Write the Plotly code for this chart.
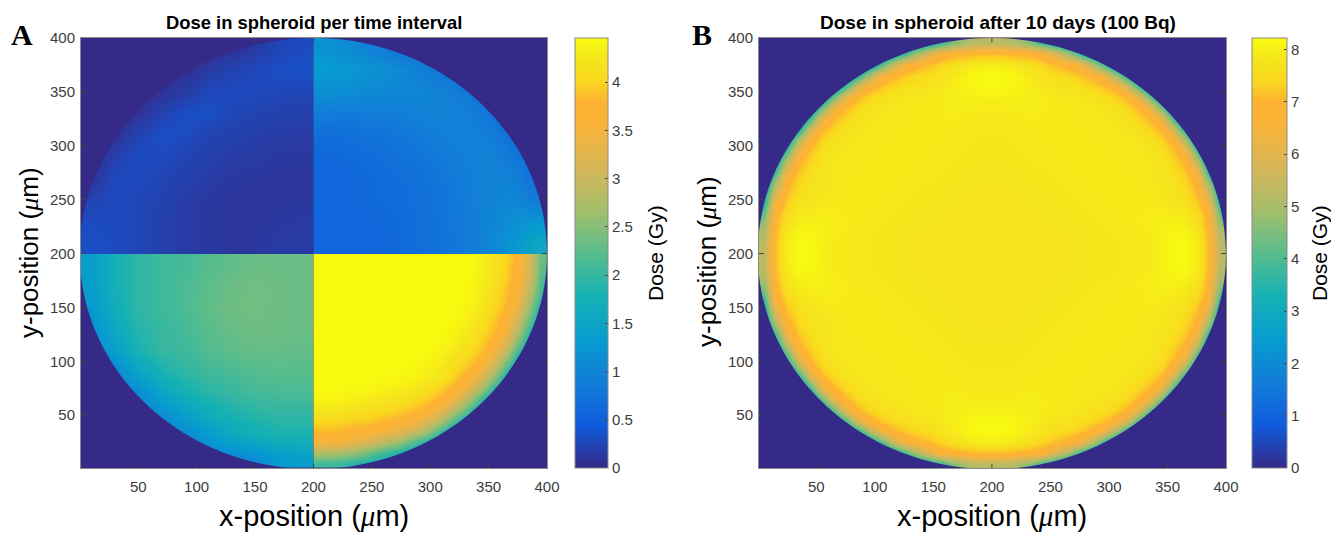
import plotly.graph_objects as go

W, H = 1331, 536
cell_centres_low = [10, 30, 50, 70, 90, 110, 130, 150, 170, 190]
cell_centres_high = [210, 230, 250, 270, 290, 310, 330, 350, 370, 390]
fine_centres_low = [5, 15, 25, 35, 45, 55, 65, 75, 85, 95, 105, 115, 125, 135, 145, 155, 165, 175, 185, 195]
fine_centres_high = [205, 215, 225, 235, 245, 255, 265, 275, 285, 295, 305, 315, 325, 335, 345, 355, 365, 375, 385, 395]
x_ticks = [50, 100, 150, 200, 250, 300, 350, 400]
y_ticks = [50, 100, 150, 200, 250, 300, 350, 400]
cbar_a_ticks = [0, 0.5, 1, 1.5, 2, 2.5, 3, 3.5, 4]
cbar_b_ticks = [0, 1, 2, 3, 4, 5, 6, 7, 8]
dose_a_max = 4.456
dose_b_max = 8.22

# Panel A: dose per quadrant, rows run from low y to high y (Gy)
a_lower_left = [
    [1.0, 1.0, 1.0, 1.0, 1.0, 1.0, 1.0, 1.1, 1.3, 1.4],
    [1.0, 1.0, 1.0, 1.0, 1.05, 1.3, 1.55, 1.7, 1.8, 1.8],
    [1.0, 1.0, 1.0, 1.1, 1.4, 1.65, 1.8, 1.9, 1.95, 1.95],
    [1.0, 1.0, 1.1, 1.5, 1.75, 1.9, 2.0, 2.08, 2.12, 2.12],
    [1.0, 1.0, 1.5, 1.8, 1.95, 2.05, 2.12, 2.2, 2.22, 2.22],
    [1.1, 1.4, 1.8, 2.0, 2.05, 2.18, 2.26, 2.3, 2.3, 2.28],
    [1.15, 1.6, 1.9, 2.0, 2.1, 2.22, 2.32, 2.36, 2.34, 2.32],
    [1.3, 1.7, 1.95, 2.05, 2.14, 2.27, 2.36, 2.38, 2.35, 2.32],
    [1.38, 1.75, 1.95, 2.05, 2.14, 2.24, 2.33, 2.38, 2.35, 2.32],
    [1.38, 1.75, 1.95, 2.05, 2.1, 2.2, 2.28, 2.33, 2.32, 2.32],
]
a_lower_right = [
    [2.05, 2.05, 2.0, 1.9, 1.8, 1.7, 1.6, 1.5, 1.5, 1.5, 1.5, 1.5, 1.5, 1.5, 1.5, 1.5, 1.5, 1.5, 1.5, 1.5],
    [2.8, 2.78, 2.7, 2.6, 2.42, 2.2, 2.0, 1.8, 1.65, 1.5, 1.5, 1.5, 1.5, 1.5, 1.5, 1.5, 1.5, 1.5, 1.5, 1.5],
    [3.5, 3.48, 3.42, 3.3, 3.15, 2.95, 2.75, 2.55, 2.2, 1.9, 1.65, 1.5, 1.5, 1.5, 1.5, 1.5, 1.5, 1.5, 1.5, 1.5],
    [3.85, 3.85, 3.8, 3.72, 3.65, 3.55, 3.4, 3.25, 3.05, 2.75, 2.25, 1.8, 1.55, 1.5, 1.5, 1.5, 1.5, 1.5, 1.5, 1.5],
    [4.05, 4.05, 4.0, 3.97, 3.95, 3.88, 3.8, 3.72, 3.55, 3.3, 3.0, 2.5, 1.95, 1.6, 1.5, 1.5, 1.5, 1.5, 1.5, 1.5],
    [4.25, 4.25, 4.22, 4.18, 4.15, 4.1, 4.05, 3.95, 3.88, 3.75, 3.5, 3.15, 2.65, 2.05, 1.6, 1.5, 1.5, 1.5, 1.5, 1.5],
    [4.38, 4.38, 4.36, 4.33, 4.3, 4.25, 4.2, 4.15, 4.08, 4.0, 3.82, 3.6, 3.2, 2.65, 2.05, 1.6, 1.5, 1.5, 1.5, 1.5],
    [4.45, 4.45, 4.43, 4.42, 4.4, 4.38, 4.35, 4.3, 4.25, 4.15, 4.03, 3.85, 3.6, 3.2, 2.65, 1.95, 1.55, 1.5, 1.5, 1.5],
    [4.45, 4.45, 4.45, 4.45, 4.45, 4.43, 4.42, 4.4, 4.36, 4.3, 4.22, 4.1, 3.85, 3.6, 3.15, 2.5, 1.8, 1.5, 1.5, 1.5],
    [4.45, 4.45, 4.45, 4.45, 4.45, 4.45, 4.45, 4.45, 4.42, 4.37, 4.3, 4.17, 4.03, 3.82, 3.5, 3.0, 2.25, 1.65, 1.5, 1.5],
    [4.45, 4.45, 4.45, 4.45, 4.45, 4.45, 4.45, 4.45, 4.45, 4.43, 4.37, 4.28, 4.15, 4.0, 3.78, 3.35, 2.7, 1.95, 1.55, 1.5],
    [4.45, 4.45, 4.45, 4.45, 4.45, 4.45, 4.45, 4.45, 4.45, 4.45, 4.42, 4.36, 4.25, 4.1, 3.92, 3.62, 3.1, 2.35, 1.65, 1.5],
    [4.45, 4.45, 4.45, 4.45, 4.45, 4.45, 4.45, 4.45, 4.45, 4.45, 4.45, 4.4, 4.32, 4.2, 4.03, 3.8, 3.38, 2.72, 1.9, 1.5],
    [4.45, 4.45, 4.45, 4.45, 4.45, 4.45, 4.45, 4.45, 4.45, 4.45, 4.45, 4.43, 4.38, 4.27, 4.12, 3.9, 3.6, 3.0, 2.2, 1.6],
    [4.45, 4.45, 4.45, 4.45, 4.45, 4.45, 4.45, 4.45, 4.45, 4.45, 4.45, 4.45, 4.41, 4.32, 4.18, 4.0, 3.73, 3.25, 2.5, 1.7],
    [4.45, 4.45, 4.45, 4.45, 4.45, 4.45, 4.45, 4.45, 4.45, 4.45, 4.45, 4.45, 4.43, 4.38, 4.24, 4.07, 3.82, 3.42, 2.72, 1.85],
    [4.45, 4.45, 4.45, 4.45, 4.45, 4.45, 4.45, 4.45, 4.45, 4.45, 4.45, 4.45, 4.45, 4.4, 4.28, 4.12, 3.88, 3.52, 2.9, 2.05],
    [4.45, 4.45, 4.45, 4.45, 4.45, 4.45, 4.45, 4.45, 4.45, 4.45, 4.45, 4.45, 4.45, 4.41, 4.31, 4.15, 3.95, 3.62, 3.05, 2.15],
    [4.45, 4.45, 4.45, 4.45, 4.45, 4.45, 4.45, 4.45, 4.45, 4.45, 4.45, 4.45, 4.45, 4.42, 4.33, 4.17, 3.98, 3.68, 3.12, 2.25],
    [4.45, 4.45, 4.45, 4.45, 4.45, 4.45, 4.45, 4.45, 4.45, 4.45, 4.45, 4.45, 4.45, 4.42, 4.33, 4.18, 4.0, 3.7, 3.15, 2.3],
]
a_upper_left = [
    [0.32, 0.29, 0.24, 0.2, 0.16, 0.13, 0.11, 0.12, 0.15, 0.15],
    [0.29, 0.29, 0.24, 0.2, 0.16, 0.13, 0.1, 0.11, 0.13, 0.14],
    [0.22, 0.29, 0.25, 0.21, 0.16, 0.13, 0.11, 0.1, 0.11, 0.12],
    [0.1, 0.27, 0.28, 0.23, 0.2, 0.16, 0.13, 0.12, 0.11, 0.11],
    [0.06, 0.2, 0.3, 0.28, 0.22, 0.19, 0.16, 0.15, 0.13, 0.13],
    [0.04, 0.06, 0.22, 0.33, 0.3, 0.22, 0.2, 0.18, 0.16, 0.15],
    [0.04, 0.04, 0.08, 0.2, 0.32, 0.33, 0.25, 0.22, 0.2, 0.2],
    [0.04, 0.04, 0.04, 0.08, 0.16, 0.27, 0.28, 0.27, 0.25, 0.24],
    [0.04, 0.04, 0.04, 0.04, 0.06, 0.14, 0.22, 0.27, 0.32, 0.34],
    [0.04, 0.04, 0.04, 0.04, 0.04, 0.04, 0.08, 0.15, 0.24, 0.29],
]
a_upper_right = [
    [0.58, 0.58, 0.6, 0.62, 0.68, 0.75, 0.85, 1.0, 1.25, 1.55],
    [0.58, 0.58, 0.6, 0.63, 0.68, 0.76, 0.86, 0.98, 1.15, 1.25],
    [0.58, 0.6, 0.62, 0.65, 0.7, 0.77, 0.88, 0.98, 1.05, 0.85],
    [0.58, 0.6, 0.63, 0.67, 0.72, 0.8, 0.9, 0.98, 0.95, 0.7],
    [0.6, 0.63, 0.66, 0.72, 0.78, 0.85, 0.93, 0.98, 0.82, 0.65],
    [0.68, 0.7, 0.74, 0.78, 0.85, 0.92, 0.98, 0.92, 0.7, 0.65],
    [0.88, 0.86, 0.88, 0.9, 0.95, 0.98, 0.95, 0.78, 0.65, 0.65],
    [1.15, 1.1, 1.05, 1.02, 1.02, 0.97, 0.82, 0.7, 0.65, 0.65],
    [1.35, 1.3, 1.2, 1.1, 0.95, 0.78, 0.65, 0.65, 0.65, 0.65],
    [1.2, 1.1, 0.95, 0.78, 0.68, 0.65, 0.65, 0.65, 0.65, 0.65],
]

# Panel B: one quadrant of the dose after 10 days (Gy); the picture is four-fold
# symmetric. Rows run from the centre outwards in y, columns outwards in x.
b_quadrant = [
    [7.7, 7.7, 7.7, 7.72, 7.72, 7.75, 7.75, 7.78, 7.8, 7.8, 7.82, 7.85, 7.85, 7.9, 8.0, 8.15, 8.2, 7.95, 7.1, 5.3],
    [7.7, 7.7, 7.7, 7.72, 7.72, 7.75, 7.75, 7.78, 7.8, 7.8, 7.82, 7.85, 7.85, 7.9, 8.0, 8.12, 8.15, 7.9, 7.05, 5.2],
    [7.7, 7.7, 7.72, 7.72, 7.75, 7.75, 7.78, 7.8, 7.8, 7.82, 7.85, 7.85, 7.9, 7.95, 8.0, 8.05, 8.0, 7.75, 6.95, 4.9],
    [7.72, 7.72, 7.72, 7.75, 7.75, 7.78, 7.8, 7.8, 7.82, 7.85, 7.85, 7.9, 7.9, 7.95, 7.95, 7.95, 7.85, 7.6, 6.85, 4.4],
    [7.72, 7.72, 7.75, 7.75, 7.78, 7.8, 7.8, 7.82, 7.85, 7.85, 7.9, 7.9, 7.9, 7.9, 7.88, 7.8, 7.7, 7.35, 6.6, 3.6],
    [7.75, 7.75, 7.75, 7.78, 7.8, 7.8, 7.82, 7.85, 7.85, 7.88, 7.9, 7.9, 7.9, 7.85, 7.8, 7.75, 7.55, 7.1, 5.8, 3.1],
    [7.75, 7.75, 7.78, 7.8, 7.8, 7.82, 7.85, 7.85, 7.88, 7.9, 7.9, 7.9, 7.88, 7.85, 7.8, 7.7, 7.45, 6.85, 5.0, 2.6],
    [7.78, 7.78, 7.8, 7.8, 7.82, 7.85, 7.85, 7.88, 7.9, 7.9, 7.9, 7.88, 7.85, 7.82, 7.8, 7.6, 7.25, 6.45, 3.8, 2.2],
    [7.8, 7.8, 7.8, 7.82, 7.85, 7.85, 7.88, 7.9, 7.9, 7.9, 7.88, 7.85, 7.85, 7.85, 7.7, 7.45, 6.95, 5.4, 2.9, 2.0],
    [7.8, 7.8, 7.82, 7.85, 7.85, 7.88, 7.9, 7.9, 7.9, 7.88, 7.85, 7.85, 7.85, 7.75, 7.6, 7.2, 6.45, 4.0, 2.3, 2.0],
    [7.82, 7.82, 7.85, 7.85, 7.88, 7.9, 7.9, 7.9, 7.88, 7.85, 7.85, 7.85, 7.8, 7.65, 7.4, 6.8, 5.1, 2.8, 2.0, 2.0],
    [7.85, 7.85, 7.85, 7.88, 7.9, 7.9, 7.9, 7.88, 7.85, 7.85, 7.85, 7.8, 7.65, 7.45, 7.0, 5.8, 3.5, 2.2, 2.0, 2.0],
    [7.85, 7.85, 7.88, 7.9, 7.9, 7.9, 7.88, 7.85, 7.85, 7.85, 7.8, 7.65, 7.45, 7.05, 6.2, 4.0, 2.4, 2.0, 2.0, 2.0],
    [7.9, 7.9, 7.95, 7.95, 7.9, 7.9, 7.88, 7.85, 7.85, 7.75, 7.65, 7.45, 7.05, 6.3, 4.3, 2.6, 2.0, 2.0, 2.0, 2.0],
    [8.0, 8.0, 7.95, 7.95, 7.9, 7.88, 7.85, 7.8, 7.7, 7.6, 7.4, 7.0, 6.2, 4.3, 2.6, 2.0, 2.0, 2.0, 2.0, 2.0],
    [8.15, 8.12, 8.05, 7.95, 7.8, 7.75, 7.7, 7.6, 7.45, 7.2, 6.8, 5.8, 4.0, 2.6, 2.0, 2.0, 2.0, 2.0, 2.0, 2.0],
    [8.2, 8.15, 8.0, 7.85, 7.7, 7.55, 7.45, 7.25, 6.95, 6.45, 5.1, 3.5, 2.4, 2.0, 2.0, 2.0, 2.0, 2.0, 2.0, 2.0],
    [7.95, 7.9, 7.75, 7.6, 7.35, 7.1, 6.85, 6.45, 5.4, 4.0, 2.8, 2.0, 2.0, 2.0, 2.0, 2.0, 2.0, 2.0, 2.0, 2.0],
    [7.1, 7.05, 6.95, 6.85, 6.6, 5.8, 5.0, 3.8, 2.9, 2.3, 2.0, 2.0, 2.0, 2.0, 2.0, 2.0, 2.0, 2.0, 2.0, 2.0],
    [5.3, 5.2, 4.9, 4.4, 3.6, 3.1, 2.6, 2.2, 2.0, 2.0, 2.0, 2.0, 2.0, 2.0, 2.0, 2.0, 2.0, 2.0, 2.0, 2.0],
]
b_half = [row[::-1] + row for row in b_quadrant]
b_dose = b_half[::-1] + b_half

parula = [
    [0.0, "rgb(53,42,135)"], [0.1, "rgb(15,92,221)"], [0.2, "rgb(18,125,216)"],
    [0.3, "rgb(7,156,207)"], [0.4, "rgb(21,177,180)"], [0.5, "rgb(89,189,140)"],
    [0.6, "rgb(165,190,107)"], [0.7, "rgb(215,182,88)"], [0.8, "rgb(250,180,55)"],
    [0.85, "rgb(253,178,50)"], [0.9, "rgb(250,215,30)"], [0.95, "rgb(245,230,28)"],
    [1.0, "rgb(249,251,14)"],
]
NAVY = "rgb(53,42,135)"
FONT = "Liberation Sans"
FRAME = "#8a8a8a"
TICK_COL = "#3c3c3c"


def px(x):
    return x / W


def py(y):
    return 1 - y / H


TOP, BOTTOM = 38, 468
A_L, A_R = 81, 547
B_L, B_R = 759, 1226
CA_L, CA_R = 575, 608
CB_L, CB_R = 1252, 1287

fig = go.Figure()


def quadrant(z, xs, ys):
    return go.Heatmap(z=z, x=xs, y=ys, coloraxis="coloraxis", zsmooth="best",
                      hoverinfo="skip", xaxis="x", yaxis="y")


fig.add_trace(quadrant(a_lower_left, cell_centres_low, cell_centres_low))
fig.add_trace(quadrant(a_lower_right, fine_centres_high, fine_centres_low))
fig.add_trace(quadrant(a_upper_left, cell_centres_low, cell_centres_high))
fig.add_trace(quadrant(a_upper_right, cell_centres_high, cell_centres_high))
fig.add_trace(go.Heatmap(z=b_dose, x=fine_centres_low + fine_centres_high,
                         y=fine_centres_low + fine_centres_high,
                         coloraxis="coloraxis2", zsmooth="best", hoverinfo="skip",
                         xaxis="x2", yaxis="y2"))


def cbar(left, right, ticks):
    return dict(
        thickness=right - left, thicknessmode="pixels",
        len=(BOTTOM - TOP) / H, lenmode="fraction",
        x=px(left), xanchor="left", y=py(BOTTOM), yanchor="bottom",
        xpad=0, ypad=0, outlinecolor=FRAME, outlinewidth=1,
        tickmode="array", tickvals=ticks, ticktext=[str(t) for t in ticks],
        ticks="inside", ticklen=3, tickwidth=1, tickcolor="#444",
        tickfont=dict(family=FONT, size=15, color=TICK_COL),
    )


def axis(dom, ticks, anchor, standoff):
    return dict(
        domain=dom, range=[1, 400], tickmode="array", tickvals=ticks,
        ticks="", showgrid=False, zeroline=False, showline=True, mirror=True,
        linecolor=FRAME, linewidth=1, anchor=anchor, ticklabelstandoff=standoff,
        tickfont=dict(family=FONT, size=15, color=TICK_COL),
    )


fig.update_layout(
    width=W, height=H, margin=dict(l=0, r=0, t=0, b=0, autoexpand=False),
    paper_bgcolor="white", plot_bgcolor=NAVY,
    xaxis=axis([px(A_L), px(A_R)], x_ticks, "y", 5),
    yaxis=axis([py(BOTTOM), py(TOP)], y_ticks, "x", 2),
    xaxis2=axis([px(B_L), px(B_R)], x_ticks, "y2", 5),
    yaxis2=axis([py(BOTTOM), py(TOP)], y_ticks, "x2", 2),
    coloraxis=dict(colorscale=parula, cmin=0, cmax=dose_a_max,
                   colorbar=cbar(CA_L, CA_R, cbar_a_ticks)),
    coloraxis2=dict(colorscale=parula, cmin=0, cmax=dose_b_max,
                    colorbar=cbar(CB_L, CB_R, cbar_b_ticks)),
    showlegend=False,
)

# The spheroid outline: everything outside it is empty (zero dose)
C, R, K = 200, 200, 110.46
outside = (
    f"M 1 1 L 400 1 L 400 400 L 1 400 Z "
    f"M {C-R} {C} C {C-R} {C+K} {C-K} {C+R} {C} {C+R} "
    f"C {C+K} {C+R} {C+R} {C+K} {C+R} {C} "
    f"C {C+R} {C-K} {C+K} {C-R} {C} {C-R} "
    f"C {C-K} {C-R} {C-R} {C-K} {C-R} {C} Z"
)
for xr, yr in (("x", "y"), ("x2", "y2")):
    fig.add_shape(type="path", path=outside, xref=xr, yref=yr, fillcolor=NAVY,
                  line=dict(width=0), fillrule="evenodd", layer="above")
    for t in x_ticks[:-1]:
        fig.add_shape(type="line", xref=xr, yref=f"{yr} domain", x0=t, x1=t, y0=0, y1=0.01,
                      line=dict(color="#444", width=1))
        fig.add_shape(type="line", xref=xr, yref=f"{yr} domain", x0=t, x1=t, y0=0.99, y1=1,
                      line=dict(color="#444", width=1))
    for t in y_ticks[:-1]:
        fig.add_shape(type="line", xref=f"{xr} domain", yref=yr, x0=0, x1=0.01, y0=t, y1=t,
                      line=dict(color="#444", width=1))
        fig.add_shape(type="line", xref=f"{xr} domain", yref=yr, x0=0.99, x1=1, y0=t, y1=t,
                      line=dict(color="#444", width=1))


def note(x, y, text, size, family=FONT, angle=0, color="black"):
    fig.add_annotation(x=px(x), y=py(y), xref="paper", yref="paper", text=text,
                       showarrow=False, textangle=angle, xanchor="center", yanchor="middle",
                       font=dict(family=family, size=size, color=color))


MU = "<i><span style=\"font-family:'Liberation Serif'\">μ</span></i>"
note(314, 23, "<b>Dose in spheroid per time interval</b>", 18.4)
note(998, 23, "<b>Dose in spheroid after 10 days (100 Bq)</b>", 19)
note(22, 34, "<b>A</b>", 30, family="Liberation Serif")
note(702, 34, "<b>B</b>", 30, family="Liberation Serif")
note(314, 516, f"x-position ({MU}m)", 29)
note(992, 516, f"x-position ({MU}m)", 29)
note(29, 253, f"y-position ({MU}m)", 26, angle=-90)
note(707, 262, f"y-position ({MU}m)", 26, angle=-90)
note(656, 253, "Dose (Gy)", 21, angle=-90)
note(1320, 253, "Dose (Gy)", 21, angle=-90)

fig.write_html("out.html", config={"displayModeBar": False},
               post_script="document.body.style.margin='0';")
